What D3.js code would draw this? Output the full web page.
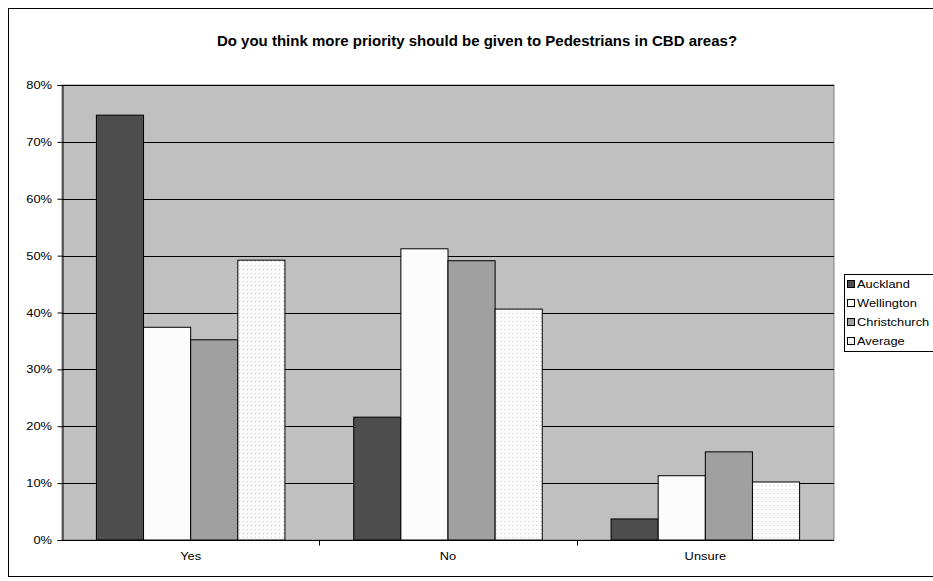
<!DOCTYPE html>
<html>
<head>
<meta charset="utf-8">
<script src="https://cdn.jsdelivr.net/npm/d3@7/dist/d3.min.js"></script>
<style>
  html, body { margin: 0; padding: 0; background: #fff; }
  svg { display: block; font-family: "Liberation Sans", Arial, sans-serif; }
</style>
</head>
<body>
<svg id="chart" width="933" height="581"></svg>
<script>
// Survey answers by city
const categories = ["Yes", "No", "Unsure"];
const seriesNames = ["Auckland", "Wellington", "Christchurch", "Average"];
const auckland = [0.747, 0.216, 0.037];
const wellington = [0.374, 0.512, 0.113];
const christchurch = [0.352, 0.491, 0.155];
const average = [0.492, 0.406, 0.102];
const yTicks = [0, 0.1, 0.2, 0.3, 0.4, 0.5, 0.6, 0.7, 0.8];
const titleText = "Do you think more priority should be given to Pedestrians in CBD areas?";

const seriesValues = [auckland, wellington, christchurch, average];
const fills = ["#4d4d4d", "#fcfcfc", "#a0a0a0", "url(#dots)"];
const labelSize = 11;
const stretch = 1.17; // labels are drawn slightly wide

const svg = d3.select("#chart");

// dotted fill for the Average series
const defs = svg.append("defs");
const pat = defs.append("pattern")
  .attr("id", "dots").attr("width", 4).attr("height", 4)
  .attr("patternUnits", "userSpaceOnUse");
pat.append("rect").attr("width", 4).attr("height", 4).attr("fill", "#fcfcfc");
pat.append("rect").attr("x", 1).attr("y", 1).attr("width", 1).attr("height", 1).attr("fill", "#c8c8c8");

// wide label helper
function label(g, x, y, text, anchor) {
  return g.append("text")
    .attr("transform", `translate(${x},${y}) scale(${stretch},1)`)
    .attr("text-anchor", anchor || "start")
    .attr("font-size", labelSize)
    .attr("fill", "#000")
    .text(text);
}

// outer chart border
svg.append("rect")
  .attr("x", 8.5).attr("y", 8.5).attr("width", 940).attr("height", 568)
  .attr("fill", "#fff").attr("stroke", "#000").attr("stroke-width", 1);

const plot = { left: 62, top: 85, right: 834, bottom: 540 };

const x0 = d3.scaleBand().domain(categories).range([plot.left, plot.right]);
const x1 = d3.scaleBand().domain(seriesNames).range([0, x0.bandwidth()]).paddingOuter(0.73);
const y = d3.scaleLinear().domain([0, 0.8]).range([plot.bottom, plot.top]);

// plot background
svg.append("rect")
  .attr("x", plot.left).attr("y", plot.top)
  .attr("width", plot.right - plot.left).attr("height", plot.bottom - plot.top)
  .attr("fill", "#c0c0c0").attr("stroke", "#808080").attr("stroke-width", 1);

// gridlines
svg.append("g").selectAll("line")
  .data(yTicks.filter(t => t > 0))
  .join("line")
  .attr("x1", plot.left).attr("x2", plot.right)
  .attr("y1", d => Math.round(y(d)) + 0.5).attr("y2", d => Math.round(y(d)) + 0.5)
  .attr("stroke", "#000").attr("stroke-width", 1);

// bars
const groups = svg.append("g").selectAll("g")
  .data(categories)
  .join("g")
  .attr("transform", c => `translate(${x0(c)},0)`);

groups.selectAll("rect")
  .data((c, i) => seriesNames.map((s, j) => ({ s, j, v: seriesValues[j][i] })))
  .join("rect")
  .attr("x", d => x1(d.s))
  .attr("y", d => y(d.v))
  .attr("width", x1.bandwidth())
  .attr("height", d => y(0) - y(d.v))
  .attr("fill", d => fills[d.j])
  .attr("stroke", "#000").attr("stroke-width", 1);

// y axis (line and ticks from d3, labels drawn wide)
const yAxis = d3.axisLeft(y).tickValues(yTicks).tickFormat("").tickSize(5);
const yg = svg.append("g").attr("transform", `translate(${plot.left + 0.5},0)`).call(yAxis);
yg.select(".domain").attr("stroke", "#000");
yg.selectAll(".tick line").attr("stroke", "#000");
const fmt = d3.format(".0%");
yTicks.forEach(t => label(svg, plot.left - 10, y(t) + 4, fmt(t), "end"));

// x axis
const xg = svg.append("g").attr("transform", `translate(0,${plot.bottom + 0.5})`)
  .call(d3.axisBottom(x0).tickSize(0).tickFormat(""));
xg.select(".domain").attr("stroke", "#000").attr("d", `M${plot.left},0H${plot.right}`);
xg.append("g").selectAll("line")
  .data(categories.slice(1))
  .join("line")
  .attr("x1", c => Math.round(x0(c)) + 0.5).attr("x2", c => Math.round(x0(c)) + 0.5)
  .attr("y1", 0).attr("y2", 5).attr("stroke", "#000");
categories.forEach(c => label(svg, x0(c) + x0.bandwidth() / 2, plot.bottom + 20, c, "middle"));

// title
svg.append("text")
  .attr("x", 477).attr("y", 46)
  .attr("text-anchor", "middle")
  .attr("font-size", 15).attr("font-weight", "bold")
  .text(titleText);

// legend
const lg = svg.append("g").attr("transform", "translate(844,274)");
lg.append("rect")
  .attr("x", 0.5).attr("y", 0.5).attr("width", 100).attr("height", 77)
  .attr("fill", "#fff").attr("stroke", "#000");
const items = lg.selectAll("g.item")
  .data(seriesNames)
  .join("g").attr("class", "item")
  .attr("transform", (d, i) => `translate(0,${10 + i * 19})`);
items.append("rect")
  .attr("x", 3.5).attr("y", -3.5).attr("width", 7).attr("height", 7)
  .attr("fill", (d, i) => fills[i]).attr("stroke", "#000");
items.each(function (d) { label(d3.select(this), 13, 4, d, "start"); });
</script>
</body>
</html>
